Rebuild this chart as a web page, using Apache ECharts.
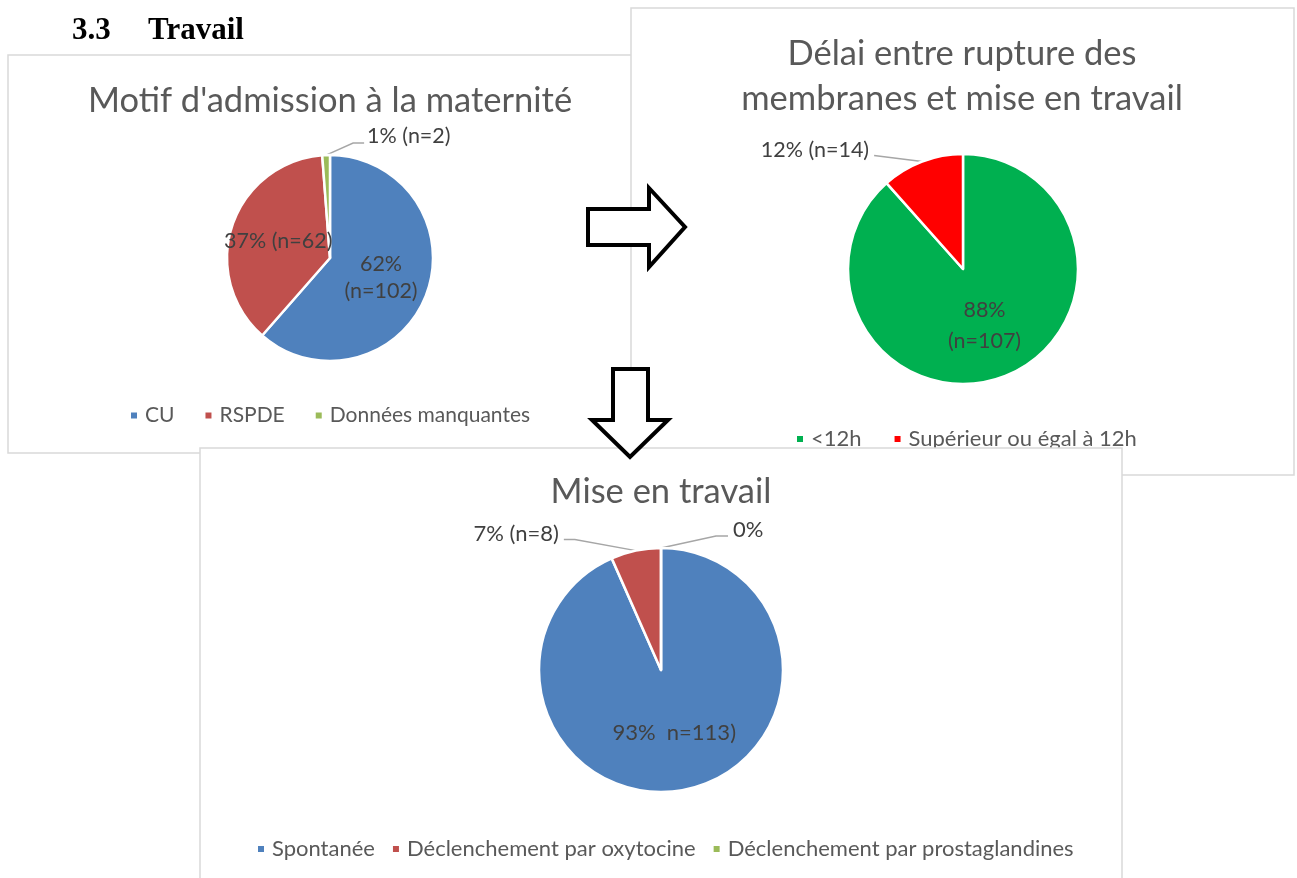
<!DOCTYPE html>
<html>
<head>
<meta charset="utf-8">
<title>Travail</title>
<script src="https://cdn.jsdelivr.net/npm/echarts@6/dist/echarts.min.js"></script>
<style>
  html, body { margin: 0; padding: 0; background: #fff; }
  #page { width: 1297px; height: 878px; }
</style>
</head>
<body>
<div id="page"></div>
<script>
const admCategories = ['CU', 'RSPDE', 'Données manquantes'];
const admValues = [102, 62, 2];
const admLabels = ['62%\n(n=102)', '37% (n=62)', '1% (n=2)'];

const delaiCategories = ['<12h', 'Supérieur ou égal à 12h'];
const delaiValues = [107, 14];
const delaiLabels = ['88%\n(n=107)', '12% (n=14)'];

const miseCategories = ['Spontanée', 'Déclenchement par oxytocine', 'Déclenchement par prostaglandines'];
const miseValues = [113, 8, 0];
const miseLabels = ['93%  n=113)', '7% (n=8)', '0%'];

const FONT = 'Lato, "Open Sans", sans-serif';
const TITLE_COLOR = '#595959';
const LABEL_COLOR = '#404040';
const BORDER = '#d9d9d9';

// etiquettes exterieures : decalages depuis le bord de la part
function outsideLayout(offsets) {
  return function (params) {
    const o = offsets[params.dataIndex];
    if (!o || !params.labelLinePoints) return {};
    const p = params.labelLinePoints[0];
    const pts = [[p[0], p[1]]].concat(o.line.map(d => [p[0] + d[0], p[1] + d[1]]));
    return {
      x: p[0] + o.text[0],
      y: p[1] + o.text[1],
      align: o.align,
      verticalAlign: 'middle',
      labelLinePoints: pts
    };
  };
}

function pieData(names, values, colors, inside) {
  return names.map((name, i) => ({
    name: name,
    value: values[i],
    itemStyle: {color: colors[i]},
    label: inside[i] ? {position: 'inside'} : {position: 'outside'},
    labelLine: {show: !inside[i]}
  }));
}

function pieSeries(center, radius, z, data, labels, fontSize, lineHeight, offsets) {
  return {
    type: 'pie',
    z: z,
    center: center,
    radius: radius,
    startAngle: 90,
    clockwise: true,
    avoidLabelOverlap: false,
    animation: false,
    itemStyle: {borderColor: '#fff', borderWidth: 2.5},
    label: {
      color: LABEL_COLOR,
      fontFamily: FONT,
      fontSize: fontSize,
      lineHeight: lineHeight,
      formatter: p => labels[p.dataIndex]
    },
    labelLine: {lineStyle: {color: '#a6a6a6', width: 1.5}, length: 10, length2: 10},
    labelLayout: outsideLayout(offsets),
    emphasis: {disabled: true},
    data: data
  };
}

function legend(names, left, top, gap, fontSize, z) {
  return {
    data: names,
    left: left,
    top: top,
    z: z,
    padding: 0,
    orient: 'horizontal',
    icon: 'rect',
    itemWidth: 8,
    itemHeight: 8,
    itemGap: gap,
    selectedMode: false,
    textStyle: {color: TITLE_COLOR, fontFamily: FONT, fontSize: fontSize, lineHeight: 20, padding: [0, 0, 0, 2]}
  };
}

function titleText(text, x, y, z) {
  return {
    type: 'text', z: z, x: x, y: y,
    style: {
      text: text, fill: TITLE_COLOR, fontFamily: FONT, fontSize: 34.5,
      align: 'center', verticalAlign: 'middle'
    }
  };
}

function panel(x, y, w, h, z) {
  return {
    type: 'rect', z: z,
    shape: {x: x, y: y, width: w, height: h},
    style: {fill: '#fff', stroke: BORDER, lineWidth: 1.5}
  };
}

function arrow(points) {
  return {
    type: 'polygon', z: 30,
    shape: {points: points},
    style: {fill: '#fff', stroke: '#000', lineWidth: 4, lineJoin: 'miter'}
  };
}

const chart = echarts.init(document.getElementById('page'), null, {renderer: 'canvas'});

chart.setOption({
  backgroundColor: '#fff',
  animation: false,
  graphic: [
    {
      type: 'text', z: 30, x: 72, y: 31,
      style: {text: '3.3', fill: '#000', fontFamily: '"Liberation Serif", serif', fontWeight: 'bold', fontSize: 31, align: 'left', verticalAlign: 'middle'}
    },
    {
      type: 'text', z: 30, x: 148, y: 31,
      style: {text: 'Travail', fill: '#000', fontFamily: '"Liberation Serif", serif', fontWeight: 'bold', fontSize: 31, align: 'left', verticalAlign: 'middle'}
    },
    panel(8, 55, 700, 398, 1),
    titleText("Motif d'admission à la maternité", 330, 101, 2),
    panel(631, 8, 663, 467, 3),
    titleText('Délai entre rupture des', 962, 54, 4),
    titleText('membranes et mise en travail', 962, 99, 4),
    panel(200, 448, 922, 440, 5),
    titleText('Mise en travail', 661, 492, 6),
    arrow([[588, 209], [649, 209], [649, 188], [685, 227], [649, 267], [649, 245], [588, 245]]),
    arrow([[613, 369], [648, 369], [648, 420], [668, 420], [630, 457], [592, 420], [613, 420]])
  ],
  legend: [
    legend(admCategories, 129, 405, 29, 21, 2),
    legend(delaiCategories, 795, 428, 31, 22, 4),
    legend(miseCategories, 256, 838, 16, 22, 6)
  ],
  series: [
    pieSeries([330, 258], 103, 2,
      pieData(admCategories, admValues, ['#4f81bd', '#c0504d', '#9bbb59'], [true, true, false]),
      admLabels, 21.5, 27,
      {2: {line: [[27, -12], [38, -12]], text: [41, -19], align: 'left'}}),
    pieSeries([963, 269], 115, 4,
      pieData(delaiCategories, delaiValues, ['#00b050', '#ff0000'], [true, false]),
      delaiLabels, 21.5, 31,
      {1: {line: [[-48, -6]], text: [-53, -11], align: 'right'}}),
    pieSeries([661, 670], 122, 6,
      pieData(miseCategories, miseValues, ['#4f81bd', '#c0504d', '#9bbb59'], [true, false, false]),
      miseLabels, 22, 27,
      {
        1: {line: [[-61, -11], [-72, -11]], text: [-77, -17], align: 'right'},
        2: {line: [[55, -12], [67, -12]], text: [72, -18], align: 'left'}
      })
  ]
});
</script>
</body>
</html>
